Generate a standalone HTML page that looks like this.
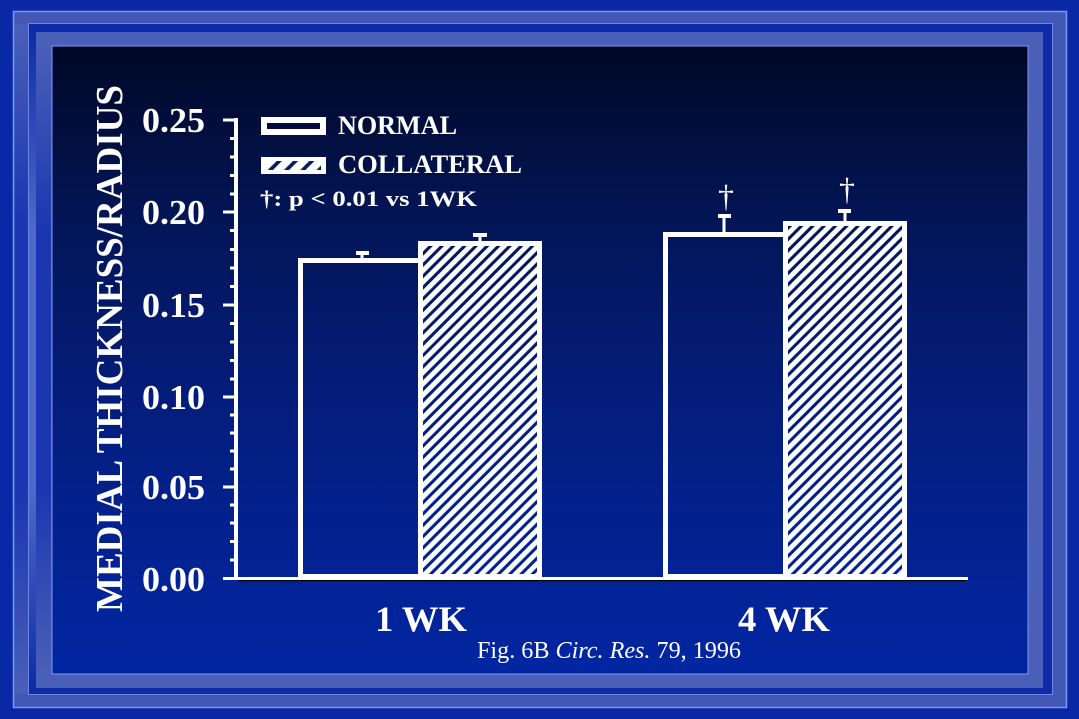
<!DOCTYPE html>
<html>
<head>
<meta charset="utf-8">
<style>
html,body{margin:0;padding:0;background:#0828a6;}
svg{display:block;}
text{font-family:"Liberation Serif","DejaVu Serif",serif;fill:#fff;}
</style>
</head>
<body>
<svg width="1079" height="719" viewBox="0 0 1079 719" xmlns="http://www.w3.org/2000/svg">
<defs>
  <linearGradient id="panel" x1="0" y1="0" x2="0" y2="1">
    <stop offset="0" stop-color="#000826"/>
    <stop offset="0.3" stop-color="#03165a"/>
    <stop offset="0.6" stop-color="#041e80"/>
    <stop offset="1" stop-color="#0226a2"/>
  </linearGradient>
  <linearGradient id="lband" x1="0" y1="0" x2="0" y2="1">
    <stop offset="0" stop-color="#4a5fb8"/>
    <stop offset="0.3" stop-color="#1a36b0"/>
    <stop offset="0.7" stop-color="#1a36b0"/>
    <stop offset="1" stop-color="#4a5fb8"/>
  </linearGradient>
  <linearGradient id="lgap" x1="0" y1="0" x2="0" y2="1">
    <stop offset="0" stop-color="#0e2ca8"/>
    <stop offset="0.3" stop-color="#5068c8"/>
    <stop offset="0.7" stop-color="#5068c8"/>
    <stop offset="1" stop-color="#0e2ca8"/>
  </linearGradient>
  <pattern id="hatch" patternUnits="userSpaceOnUse" width="8" height="8" patternTransform="rotate(45)">
    <rect x="0" y="0" width="4.9" height="8" fill="#ffffff"/>
  </pattern>
  <pattern id="hatch2" patternUnits="userSpaceOnUse" width="11.5" height="11.5" patternTransform="translate(264,0) rotate(45)">
    <rect x="0" y="0" width="7.8" height="11.5" fill="#ffffff"/>
  </pattern>
</defs>

<!-- background frame -->
<rect x="0" y="0" width="1079" height="719" fill="#0828a6"/>
<rect x="13.5" y="11.5" width="1053" height="696" fill="#4358b5" stroke="#7d96f2" stroke-width="1.5"/>
<rect x="28.5" y="23.5" width="1024" height="671" fill="#0e2ca8" stroke="#6c86e6" stroke-width="1"/>
<rect x="36" y="32" width="1007" height="656" fill="#4a5fb8"/>
<rect x="14.5" y="24" width="13.5" height="670" fill="url(#lband)"/>
<rect x="29" y="32" width="7" height="656" fill="url(#lgap)"/>
<rect x="36" y="46" width="15" height="628" fill="url(#lband)"/>
<rect x="52" y="46" width="976" height="628" fill="url(#panel)" stroke="#7d96f2" stroke-width="1"/>

<!-- y axis title -->
<text transform="translate(122,348.5) rotate(-90)" text-anchor="middle" font-size="38" font-weight="bold" textLength="527" lengthAdjust="spacingAndGlyphs">MEDIAL THICKNESS/RADIUS</text>

<!-- tick labels -->
<g font-size="35" font-weight="bold" text-anchor="end">
  <text x="205" y="132" textLength="63" lengthAdjust="spacingAndGlyphs">0.25</text>
  <text x="205" y="224" textLength="63" lengthAdjust="spacingAndGlyphs">0.20</text>
  <text x="205" y="317" textLength="63" lengthAdjust="spacingAndGlyphs">0.15</text>
  <text x="205" y="409" textLength="63" lengthAdjust="spacingAndGlyphs">0.10</text>
  <text x="205" y="499" textLength="63" lengthAdjust="spacingAndGlyphs">0.05</text>
  <text x="205" y="591" textLength="63" lengthAdjust="spacingAndGlyphs">0.00</text>
</g>

<!-- bars: hatch fills -->
<rect x="423" y="246" width="114" height="331" fill="url(#hatch)"/>
<rect x="788" y="226" width="114" height="351" fill="url(#hatch)"/>

<!-- bar outlines -->
<g fill="none" stroke="#ffffff" stroke-width="5">
  <rect x="300.5" y="260.5" width="120" height="316"/>
  <rect x="420.5" y="243.5" width="119" height="333"/>
  <rect x="665.5" y="234.5" width="120" height="342"/>
  <rect x="785.5" y="223.5" width="119" height="353"/>
</g>

<!-- error bars -->
<g fill="#ffffff">
  <rect x="360.5" y="252" width="3" height="7"/>
  <rect x="356" y="251" width="13" height="4"/>
  <rect x="478.5" y="234" width="3" height="8"/>
  <rect x="473" y="233" width="14" height="4"/>
  <rect x="722.5" y="215" width="3" height="18"/>
  <rect x="718" y="214" width="13" height="4"/>
  <rect x="843.5" y="210" width="3" height="12"/>
  <rect x="838" y="209" width="13" height="4"/>
</g>

<!-- daggers -->
<text x="726" y="207" font-size="32" text-anchor="middle">†</text>
<text x="847" y="200" font-size="32" text-anchor="middle">†</text>

<!-- axes -->
<g fill="#ffffff">
  <rect x="234" y="118" width="4" height="462"/>
  <rect x="234" y="577" width="734" height="3"/>
  <!-- major ticks -->
  <rect x="223" y="118.5" width="12" height="3"/>
  <rect x="223" y="210.5" width="12" height="3"/>
  <rect x="223" y="303.5" width="12" height="3"/>
  <rect x="223" y="395.5" width="12" height="3"/>
  <rect x="223" y="485.5" width="12" height="3"/>
  <rect x="223" y="577" width="12" height="3"/>
  <!-- minor ticks -->
  <rect x="230" y="137" width="5" height="3"/>
  <rect x="230" y="155.5" width="5" height="3"/>
  <rect x="230" y="174" width="5" height="3"/>
  <rect x="230" y="192.5" width="5" height="3"/>
  <rect x="230" y="229" width="5" height="3"/>
  <rect x="230" y="248" width="5" height="3"/>
  <rect x="230" y="266.5" width="5" height="3"/>
  <rect x="230" y="285" width="5" height="3"/>
  <rect x="230" y="322" width="5" height="3"/>
  <rect x="230" y="340.5" width="5" height="3"/>
  <rect x="230" y="359" width="5" height="3"/>
  <rect x="230" y="377.5" width="5" height="3"/>
  <rect x="230" y="413.5" width="5" height="3"/>
  <rect x="230" y="431.5" width="5" height="3"/>
  <rect x="230" y="449.5" width="5" height="3"/>
  <rect x="230" y="467.5" width="5" height="3"/>
  <rect x="230" y="503.5" width="5" height="3"/>
  <rect x="230" y="521.5" width="5" height="3"/>
  <rect x="230" y="540" width="5" height="3"/>
  <rect x="230" y="558.5" width="5" height="3"/>
</g>
<rect x="238" y="580" width="727" height="1.2" fill="#000000"/>

<!-- legend -->
<rect x="264" y="120" width="59" height="12" fill="none" stroke="#ffffff" stroke-width="6"/>
<rect x="261" y="157" width="65" height="17" fill="#ffffff"/>
<rect x="266" y="161" width="55" height="9" fill="#0a1a5a"/>
<rect x="266" y="161" width="55" height="9" fill="url(#hatch2)"/>
<g font-size="26" font-weight="bold">
  <text x="338" y="134" textLength="119" lengthAdjust="spacingAndGlyphs">NORMAL</text>
  <text x="338" y="173" textLength="184" lengthAdjust="spacingAndGlyphs">COLLATERAL</text>
</g>
<text x="260" y="206" font-size="22" font-weight="bold" textLength="217" lengthAdjust="spacingAndGlyphs">†: p &lt; 0.01 vs 1WK</text>

<!-- x labels -->
<g font-size="36" font-weight="bold">
  <text x="375" y="631" textLength="92" lengthAdjust="spacingAndGlyphs">1 WK</text>
  <text x="738" y="631" textLength="92" lengthAdjust="spacingAndGlyphs">4 WK</text>
</g>
<text x="477" y="658" font-size="24" textLength="264" lengthAdjust="spacingAndGlyphs">Fig. 6B <tspan font-style="italic">Circ. Res.</tspan> 79, 1996</text>
</svg>
</body>
</html>
